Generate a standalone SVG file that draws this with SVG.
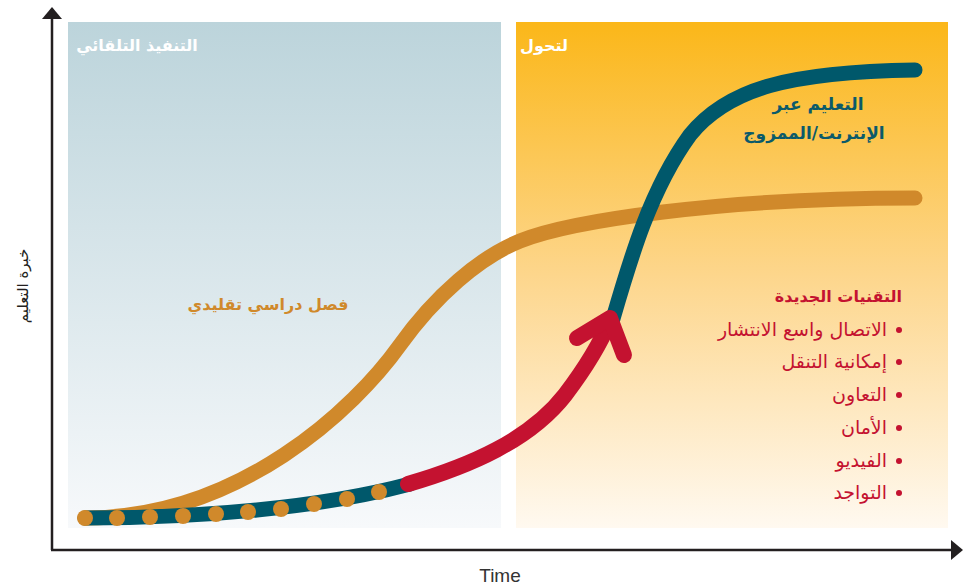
<svg xmlns="http://www.w3.org/2000/svg" width="970" height="587" viewBox="0 0 970 587">
  <defs>
    <linearGradient id="gradClassic" x1="0" y1="0" x2="0" y2="1">
      <stop offset="0" stop-color="#bcd4db"/>
      <stop offset="1" stop-color="#f7f9fb"/>
    </linearGradient>
    <linearGradient id="gradShift" x1="0" y1="0" x2="0" y2="1">
      <stop offset="0" stop-color="#fbb719"/>
      <stop offset="0.5" stop-color="#fdd68c"/>
      <stop offset="1" stop-color="#fff9f0"/>
    </linearGradient>
    <marker id="axisHead" viewBox="0 0 12 20" refX="1" refY="10" markerWidth="12" markerHeight="20" markerUnits="userSpaceOnUse" orient="auto">
      <path d="M0,0 L12,10 L0,20 Z" fill="#231f20"/>
    </marker>
    <style>
      .axis { stroke: #231f20; stroke-width: 2.5; fill: none; }
      .curve { fill: none; stroke-linecap: round; stroke-linejoin: round; }
      .classic { stroke: #d0892b; stroke-width: 15; }
      .online { stroke: #00586b; stroke-width: 15; }
      .shift { stroke: #c41230; stroke-width: 16; }
      .dot { fill: #d0892b; }
      .ar { font-family: "DejaVu Sans", "Noto Sans", sans-serif; }
      .panelTitle { fill: #ffffff; font-size: 16px; font-weight: bold; }
      .onlineLabel { fill: #0b5a6a; font-size: 17px; font-weight: bold; }
      .classicLabel { fill: #d0892b; font-size: 16px; font-weight: bold; }
      .techTitle { fill: #c41230; font-size: 16px; font-weight: bold; }
      .techItem { fill: #c41230; font-size: 19px; }
      .bullet { fill: #c41230; }
      .axisLabel { fill: #231f20; font-size: 15px; }
      .timeLabel { font-family: "Liberation Sans", Arial, sans-serif; fill: #333333; font-size: 19px; }
    </style>
  </defs>

  <rect width="970" height="587" fill="#ffffff"/>

  <!-- background phases -->
  <g id="phase-classic">
    <rect x="68" y="22" width="433" height="506" fill="url(#gradClassic)"/>
    <text class="ar panelTitle" x="137" y="51" text-anchor="middle" direction="rtl">التنفيذ التلقائي</text>
  </g>
  <g id="phase-shift">
    <rect x="516" y="22" width="432" height="506" fill="url(#gradShift)"/>
    <text class="ar panelTitle" x="544" y="51" text-anchor="middle" direction="rtl">لتحول</text>
  </g>

  <!-- axes -->
  <g id="axes">
    <path class="axis" d="M52,550 L52,18" marker-end="url(#axisHead)"/>
    <path class="axis" d="M51,550 L952,550" marker-end="url(#axisHead)"/>
    <text class="ar axisLabel" transform="translate(28,286) rotate(-90)" text-anchor="middle" direction="rtl">خبرة التعليم</text>
    <text class="timeLabel" x="500" y="582" text-anchor="middle">Time</text>
  </g>

  <!-- learning curves -->
  <g id="connectors">
    <path id="curve-classic" class="curve classic" d="M85,518 C240,518 355,408 400,345 C435,296 480,257 520,241 C570,221 720,198 915,198"/>
    <path id="curve-online-base" class="curve online" d="M85,518 C200,518 320,508 410,484"/>
    <path id="curve-online-rise" class="curve online" d="M612,322 C630,260 650,190 690,135 C728,88 790,72 915,70"/>
    <g id="classroom-dots">
      <circle class="dot" cx="85" cy="518" r="8"/>
      <circle class="dot" cx="117" cy="518" r="8"/>
      <circle class="dot" cx="150" cy="517" r="8"/>
      <circle class="dot" cx="183" cy="516" r="8"/>
      <circle class="dot" cx="216" cy="514" r="8"/>
      <circle class="dot" cx="248" cy="512" r="8"/>
      <circle class="dot" cx="281" cy="509" r="8"/>
      <circle class="dot" cx="314" cy="504" r="8"/>
      <circle class="dot" cx="347" cy="499" r="8"/>
      <circle class="dot" cx="379" cy="492" r="8"/>
    </g>
    <path id="curve-shift" class="curve shift" d="M408,484 C470,466 530,440 565,395 C590,362 602,340 610,320"/>
    <path id="shift-head" class="curve shift" d="M577,338 L610,318 L624,355"/>
  </g>

  <!-- curve labels -->
  <g id="label-online">
    <text class="ar onlineLabel" x="818" y="110" text-anchor="middle" direction="rtl">التعليم عبر</text>
    <text class="ar onlineLabel" x="814" y="139" text-anchor="middle" direction="rtl">الإنترنت/الممزوج</text>
  </g>
  <g id="label-classic">
    <text class="ar classicLabel" x="268" y="310" text-anchor="middle" direction="rtl">فصل دراسي تقليدي</text>
  </g>

  <!-- new technologies list -->
  <g id="new-technologies">
    <text class="ar techTitle" x="902" y="302" direction="rtl">التقنيات الجديدة</text>
    <text class="ar techItem" x="887" y="336" direction="rtl">الاتصال واسع الانتشار</text>
    <text class="ar techItem" x="887" y="368" direction="rtl">إمكانية التنقل</text>
    <text class="ar techItem" x="887" y="401" direction="rtl">التعاون</text>
    <text class="ar techItem" x="887" y="434" direction="rtl">الأمان</text>
    <text class="ar techItem" x="887" y="467" direction="rtl">الفيديو</text>
    <text class="ar techItem" x="887" y="499" direction="rtl">التواجد</text>
    <circle class="bullet" cx="899" cy="330" r="3"/>
    <circle class="bullet" cx="899" cy="362" r="3"/>
    <circle class="bullet" cx="899" cy="395" r="3"/>
    <circle class="bullet" cx="899" cy="428" r="3"/>
    <circle class="bullet" cx="899" cy="461" r="3"/>
    <circle class="bullet" cx="899" cy="493" r="3"/>
  </g>
</svg>
